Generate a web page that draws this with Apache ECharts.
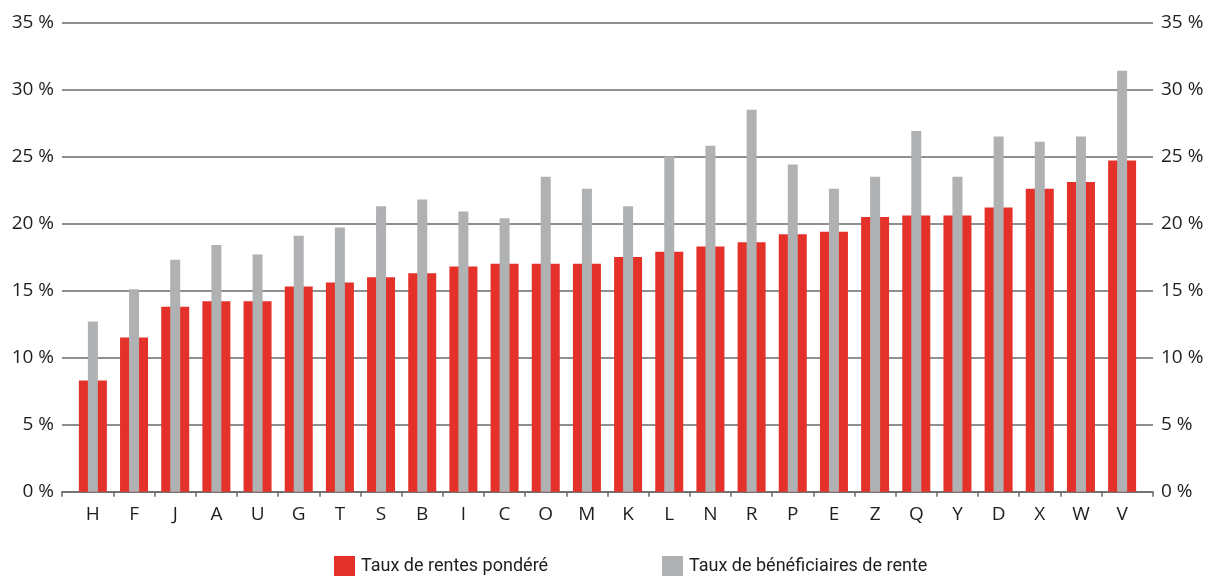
<!DOCTYPE html>
<html>
<head>
<meta charset="utf-8">
<script src="https://cdn.jsdelivr.net/npm/echarts@6.0.0/dist/echarts.min.js"></script>
<style>
  html, body { margin: 0; padding: 0; background: #ffffff; }
  #chart { width: 1212px; height: 576px; }
</style>
</head>
<body>
<div id="chart"></div>
<script>
// Cantons, sorted by the weighted pension rate
const categories = ['H', 'F', 'J', 'A', 'U', 'G', 'T', 'S', 'B', 'I', 'C', 'O', 'M',
                    'K', 'L', 'N', 'R', 'P', 'E', 'Z', 'Q', 'Y', 'D', 'X', 'W', 'V'];

// Taux de rentes pondéré (%)
const weightedRate = [8.3, 11.5, 13.8, 14.2, 14.2, 15.3, 15.6, 16.0, 16.3, 16.8, 17.0, 17.0, 17.0,
                      17.5, 17.9, 18.3, 18.6, 19.2, 19.4, 20.5, 20.6, 20.6, 21.2, 22.6, 23.1, 24.7];

// Taux de bénéficiaires de rente (%)
const beneficiaryRate = [12.7, 15.1, 17.3, 18.4, 17.7, 19.1, 19.7, 21.3, 21.8, 20.9, 20.4, 23.5, 22.6,
                         21.3, 25.0, 25.8, 28.5, 24.4, 22.6, 23.5, 26.9, 23.5, 26.5, 26.1, 26.5, 31.4];

// Percentage axis ticks
const yTicks = [0, 5, 10, 15, 20, 25, 30, 35];

const seriesNames = ['Taux de rentes pondéré', 'Taux de bénéficiaires de rente'];

const RED = '#e4312a';
const GREY = '#b0b1b3';
const LINE = '#6a6a6a';
const TEXT = '#1e1e1e';
const FONT = 'Open Sans';
const LEGEND_FONT = 'Roboto';

// Category positions on a numeric axis, with a small overhang at both ends
const pad = 0.25;
const xMin = -0.5 - pad;
const xMax = categories.length - 0.5 + pad;
const labelValues = categories.map((c, i) => i);
const tickValues = [xMin].concat(categories.slice(1).map((c, i) => i + 0.5)).concat([xMax]);

const chart = echarts.init(document.getElementById('chart'), null, { renderer: 'canvas' });

const yAxisBase = {
  type: 'value',
  min: yTicks[0],
  max: yTicks[yTicks.length - 1],
  interval: yTicks[1] - yTicks[0],
  axisLine: { show: false },
  axisTick: { show: false },
  axisLabel: {
    formatter: '{value} %',
    margin: 8,
    fontSize: 19,
    fontFamily: FONT,
    color: TEXT
  }
};

const legendBase = {
  top: 556,
  padding: 0,
  icon: 'rect',
  itemWidth: 21,
  itemHeight: 20,
  textStyle: { fontSize: 18, fontFamily: LEGEND_FONT, color: TEXT, padding: [0, 0, 0, 1] }
};

chart.setOption({
  animation: false,
  textStyle: { fontFamily: FONT },
  grid: { left: 62, right: 59, top: 22.5, bottom: 84.3, containLabel: false },
  xAxis: [
    {
      type: 'value',
      min: xMin,
      max: xMax,
      splitLine: { show: false },
      axisLine: { show: true, onZero: true, lineStyle: { color: LINE, width: 1.5 } },
      axisTick: {
        show: true,
        length: 5,
        customValues: tickValues,
        lineStyle: { color: LINE, width: 1.5 }
      },
      axisLabel: {
        customValues: labelValues,
        formatter: v => categories[Math.round(v)] || '',
        margin: 13,
        fontSize: 19,
        fontFamily: FONT,
        color: TEXT
      }
    },
    {
      type: 'value',
      min: xMin,
      max: xMax,
      show: false
    }
  ],
  yAxis: [
    Object.assign({}, yAxisBase, {
      position: 'left',
      splitLine: { show: true, lineStyle: { color: LINE, width: 1.5 } }
    }),
    Object.assign({}, yAxisBase, {
      position: 'right',
      splitLine: { show: false }
    })
  ],
  legend: [
    Object.assign({}, legendBase, { left: 334, data: [seriesNames[0]] }),
    Object.assign({}, legendBase, { left: 662, data: [seriesNames[1]] })
  ],
  series: [
    {
      name: seriesNames[0],
      type: 'bar',
      xAxisIndex: 0,
      yAxisIndex: 0,
      barWidth: 28,
      itemStyle: { color: RED },
      data: weightedRate.map((v, i) => [i, v])
    },
    {
      name: seriesNames[1],
      type: 'bar',
      xAxisIndex: 1,
      yAxisIndex: 0,
      barWidth: 10,
      itemStyle: { color: GREY },
      data: beneficiaryRate.map((v, i) => [i, v])
    }
  ]
});
</script>
</body>
</html>
